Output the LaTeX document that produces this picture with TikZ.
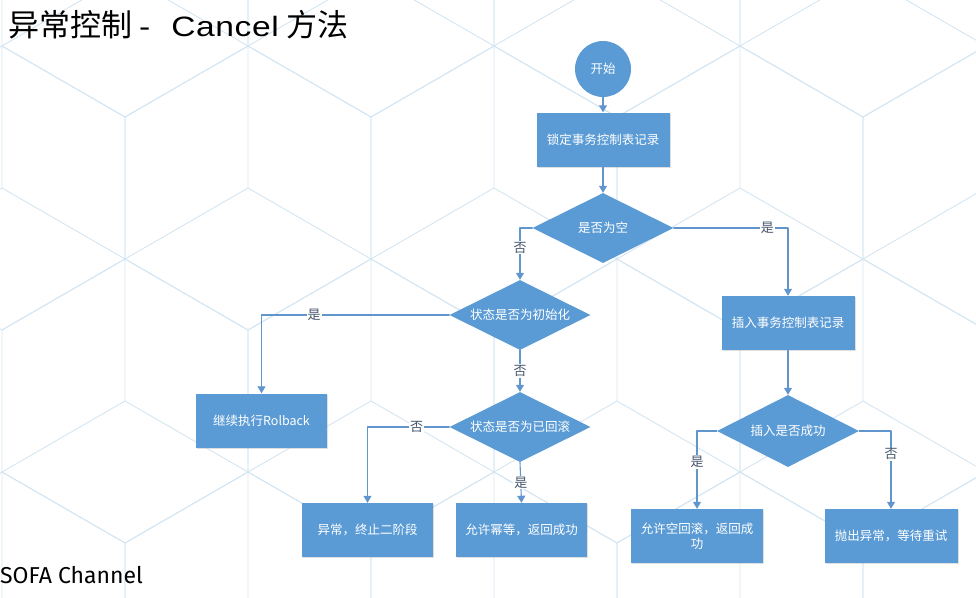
\documentclass[tikz,border=0pt]{standalone}
\usepackage{fontspec}
\newfontfamily\cjk{Noto Sans CJK SC}
\newfontfamily\latin{Liberation Sans}[FakeStretch=1.2, LetterSpace=2]
\newfontfamily\sofa{Fira Sans}
\usetikzlibrary{shapes.geometric,arrows.meta,shadows}
\definecolor{flowblue}{RGB}{91,155,213}
\definecolor{linkblue}{RGB}{96,150,205}
\definecolor{labelgray}{RGB}{68,84,106}
\definecolor{bgline}{RGB}{212,229,242}
\begin{document}
\begin{tikzpicture}[x=1pt, y=-1pt, line join=round, line cap=round, >={Triangle[width=8pt,length=7pt]}, font=\cjk\fontsize{12.5}{15}\selectfont]
	\tikzset{every node/.style={inner sep=2pt},
		box/.style={rectangle, fill=flowblue, text=white, minimum width=133pt, minimum height=54pt, align=center, drop shadow={opacity=0.25, shadow xshift=1.2pt, shadow yshift=-1.2pt}},
		decision/.style={diamond, aspect=2, fill=flowblue, text=white, minimum width=141pt, minimum height=70pt, inner sep=0pt},
		startnode/.style={circle, fill=flowblue, text=white, minimum size=56pt},
		link/.style={draw=linkblue, line width=1.1pt, ->},
		yesno/.style={fill=white, text=labelgray, inner sep=1pt, font=\cjk\fontsize{13}{15}\selectfont}}
	\useasboundingbox (0,0) rectangle (976,597);
	%Vẽ nền
	\begin{scope}
		\clip (0,0) rectangle (976,597);
		\foreach \j in {0,...,3}{
			\foreach \i in {-1,...,4}{
				\pgfmathsetmacro\cx{248+\i*246+mod(\j+1,2)*123}
				\pgfmathsetmacro\cy{188+(\j-1)*213}
				\draw[bgline, line width=0.9pt] (\cx+123,\cy-71) -- (\cx+123,\cy+71) -- (\cx,\cy+142) -- (\cx-123,\cy+71) -- (\cx-123,\cy-71) -- (\cx,\cy-142) -- cycle;
				\draw[bgline, line width=0.9pt] (\cx,\cy) -- (\cx,\cy-142) (\cx,\cy) -- (\cx-123,\cy+71) (\cx,\cy) -- (\cx+123,\cy+71);
			}
		}
	\end{scope}
	%Tiêu đề
	\node[anchor=west, inner sep=0pt, font=\cjk\fontsize{31}{34}\selectfont] (title) at (8,25) {异常控制\hspace{7pt}{\latin\fontsize{28}{34}\selectfont -}\hspace{21pt}{\latin\fontsize{28}{34}\selectfont Cancel}\hspace{8pt}方法};
	\node[anchor=base west, font=\sofa\fontsize{23}{26}\selectfont] (channel) at (-2,583) {SOFA Channel};
	%Vẽ các khối
	\node[startnode] (start) at (603,69) {开始};
	\node[box] (lock) at (603,139.5) {锁定事务控制表记录};
	\node[decision] (empty) at (603,228) {是否为空};
	\node[decision] (init) at (520,315) {状态是否为初始化};
	\node[box, minimum width=131pt] (rollback) at (261.5,420.5) {继续执行Rolback};
	\node[decision] (rolled) at (520,427) {状态是否为已回滚};
	\node[box, minimum width=131pt] (abort) at (367.5,530) {异常，终止二阶段};
	\node[box, minimum width=131pt] (idem) at (521.5,530) {允许幂等，返回成功};
	\node[box] (insert) at (788,323) {插入事务控制表记录};
	\node[decision, minimum width=142pt, minimum height=72pt] (inserted) at (788,431) {插入是否成功};
	\node[box, minimum width=132pt] (allow) at (697,536) {允许空回滚，返回成\\功};
	\node[box] (throw) at (891,536) {抛出异常，等待重试};
	%Vẽ các mũi tên
	\draw[link] (start) -- (lock);
	\draw[link] (lock) -- (empty);
	\draw[link] (empty.west) -| (init.north) node[yesno, pos=0.69]{否};
	\draw[link] (empty.east) -| (insert.north) node[yesno, pos=0.41]{是};
	\draw[link] (init.west) -| (rollback.north) node[yesno, pos=0.36]{是};
	\draw[link] (init.south) -- (rolled.north) node[yesno, pos=0.5]{否};
	\draw[link] (rolled.west) -| (abort.north) node[yesno, pos=0.2]{否};
	\draw[link] (rolled.south) -- (idem.north) node[yesno, pos=0.5]{是};
	\draw[link] (insert) -- (inserted);
	\draw[link] (inserted.west) -| (allow.north) node[yesno, pos=0.7]{是};
	\draw[link] (inserted.east) -| (throw.north) node[yesno, pos=0.65]{否};
\end{tikzpicture}
\end{document}
